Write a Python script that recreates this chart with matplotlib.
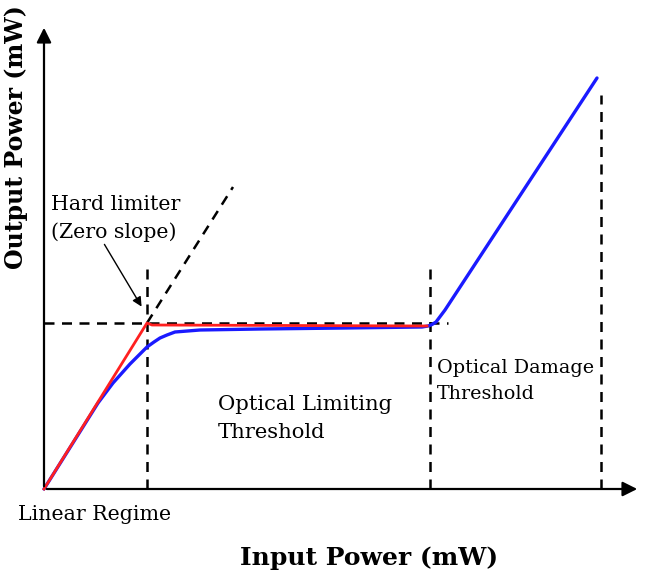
import numpy as np
import matplotlib.pyplot as plt

# Datos del esquema (unidades arbitrarias de potencia)
x_rojo = [0.0, 1.03, 1.08, 3.83]
y_rojo = [0.0, 1.66, 1.64, 1.63]

x_azul = [0.0, 0.54, 0.69, 0.86, 0.96, 1.03, 1.10, 1.16, 1.23, 1.31, 1.56, 2.16, 3.00, 3.78, 3.84, 3.88, 3.92, 4.01, 5.53]
y_azul = [0.0, 0.86, 1.06, 1.25, 1.35, 1.42, 1.47, 1.51, 1.54, 1.57, 1.59, 1.60, 1.61, 1.62, 1.63, 1.645, 1.67, 1.79, 4.11]

umbral_lim = 1.03      # entrada del limitador
umbral_dano = 3.86     # umbral de daño
x_final = 5.57
y_lim = 1.665

diag_x = [1.03, 1.89]
diag_y = [1.66, 3.02]

# Figura
fig = plt.figure(figsize=(6.5, 5.78), dpi=100)
ax = fig.add_axes([0, 0, 1, 1])
ax.set_xlim(-0.44, 6.06)
ax.set_ylim(-0.89, 4.89)
ax.axis("off")

serif = "DejaVu Serif"
guiones = dict(color="black", lw=1.8, linestyle=(0, (4, 3)))

# Lineas discontinuas de referencia
ax.plot([0, 4.04], [y_lim, y_lim], **guiones)
ax.plot(diag_x, diag_y, **guiones)
ax.plot([umbral_lim, umbral_lim], [0, 2.21], **guiones)
ax.plot([umbral_dano, umbral_dano], [0, 2.27], **guiones)
ax.plot([x_final, x_final], [0, 3.94], **guiones)

# Curvas
ax.plot(x_azul, y_azul, color="#1a1aff", lw=2.4, solid_capstyle="round", solid_joinstyle="round")
ax.plot(x_rojo, y_rojo, color="#ff2020", lw=2.0)

# Ejes con flechas
ax.annotate("", xy=(5.96, 0), xytext=(0, 0),
            arrowprops=dict(arrowstyle="-|>", lw=1.6, color="black", mutation_scale=22))
ax.annotate("", xy=(0, 4.64), xytext=(0, 0),
            arrowprops=dict(arrowstyle="-|>", lw=1.6, color="black", mutation_scale=22))

# Textos
fs = 14.8
ax.text(0.07, 2.84, "Hard limiter", family=serif, fontsize=fs, va="center", ha="left")
ax.text(0.07, 2.57, "(Zero slope)", family=serif, fontsize=fs, va="center", ha="left")
ax.annotate("", xy=(0.99, 1.80), xytext=(0.59, 2.47),
            arrowprops=dict(arrowstyle="-|>", lw=1.0, color="black", mutation_scale=14))
ax.text(1.74, 0.84, "Optical Limiting", family=serif, fontsize=15.2, va="center", ha="left")
ax.text(1.74, 0.56, "Threshold", family=serif, fontsize=15.2, va="center", ha="left")
ax.text(3.93, 1.21, "Optical Damage", family=serif, fontsize=13.8, va="center", ha="left")
ax.text(3.93, 0.95, "Threshold", family=serif, fontsize=13.8, va="center", ha="left")
ax.text(-0.26, -0.26, "Linear Regime", family=serif, fontsize=fs, va="center", ha="left")

ax.text(3.25, -0.69, "Input Power (mW)", family=serif, fontsize=18,
        fontweight="bold", ha="center", va="center")
ax.text(-0.28, 3.52, "Output Power (mW)", family=serif, fontsize=17,
        fontweight="bold", ha="center", va="center", rotation=90)

fig.savefig("out.png", dpi=100)
